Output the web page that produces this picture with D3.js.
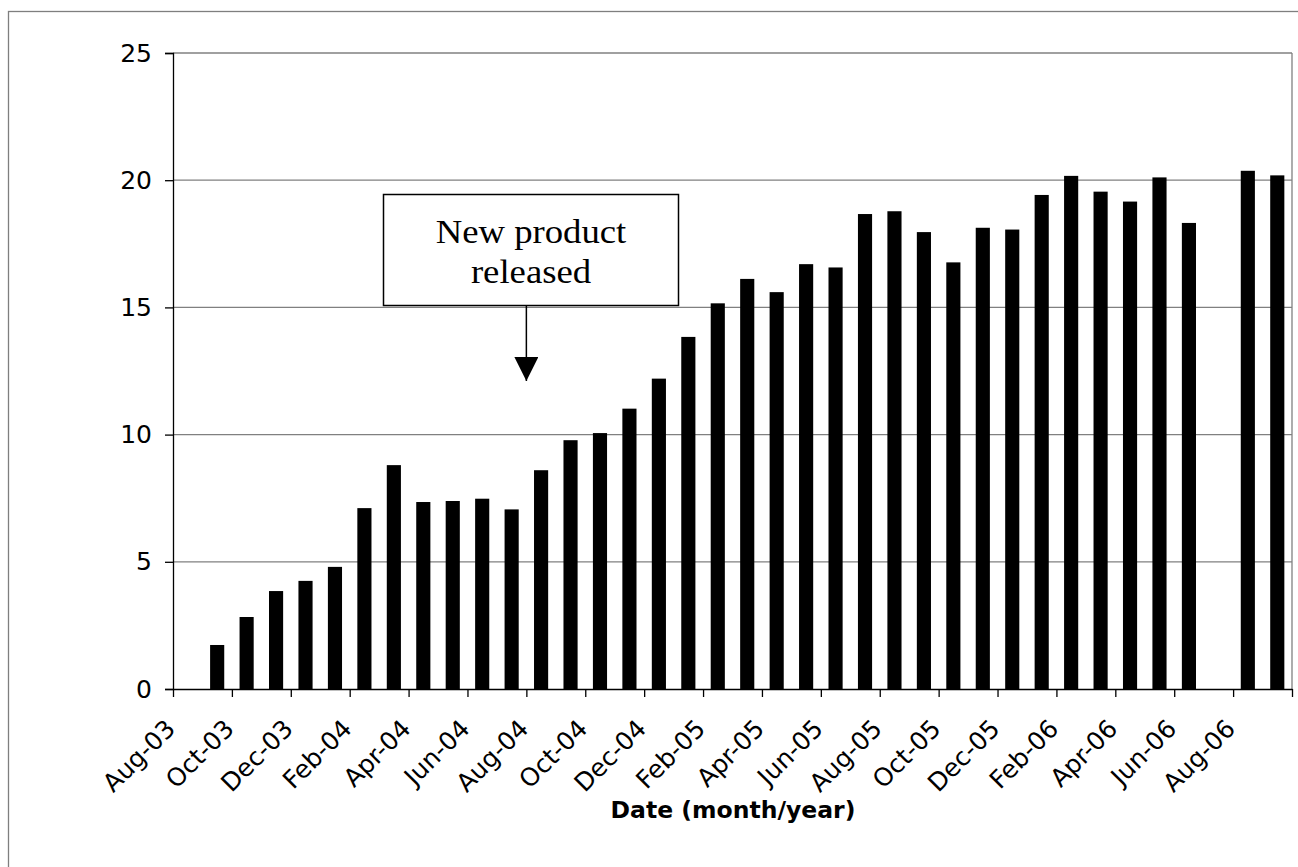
<!DOCTYPE html>
<html><head><meta charset="utf-8">
<script src="https://cdn.jsdelivr.net/npm/d3@7"></script>
<style>body{margin:0;background:#fff} svg{display:block}</style>
</head><body><svg id="c" width="1298" height="867"></svg>
<script>
// Month slots on the date axis (Aug-03 .. Sep-06)
const axisMonths = ["Aug-03","Sep-03","Oct-03","Nov-03","Dec-03","Jan-04","Feb-04","Mar-04","Apr-04","May-04","Jun-04","Jul-04","Aug-04","Sep-04","Oct-04","Nov-04","Dec-04","Jan-05","Feb-05","Mar-05","Apr-05","May-05","Jun-05","Jul-05","Aug-05","Sep-05","Oct-05","Nov-05","Dec-05","Jan-06","Feb-06","Mar-06","Apr-06","May-06","Jun-06","Jul-06","Aug-06","Sep-06"];
// Data categories and values (Jul-06 missing)
const categories = ["Sep-03","Oct-03","Nov-03","Dec-03","Jan-04","Feb-04","Mar-04","Apr-04","May-04","Jun-04","Jul-04","Aug-04","Sep-04","Oct-04","Nov-04","Dec-04","Jan-05","Feb-05","Mar-05","Apr-05","May-05","Jun-05","Jul-05","Aug-05","Sep-05","Oct-05","Nov-05","Dec-05","Jan-06","Feb-06","Mar-06","Apr-06","May-06","Jun-06","Jul-06","Aug-06","Sep-06"];
const values = [1.73,2.83,3.85,4.25,4.8,7.11,8.8,7.35,7.39,7.48,7.06,8.6,9.78,10.06,11.02,12.2,13.84,15.16,16.12,15.6,16.7,16.57,18.67,18.78,17.96,16.77,18.13,18.06,19.42,20.17,19.55,19.16,20.11,18.32,null,20.37,20.19];
const xTickLabels = ["Aug-03","Oct-03","Dec-03","Feb-04","Apr-04","Jun-04","Aug-04","Oct-04","Dec-04","Feb-05","Apr-05","Jun-05","Aug-05","Oct-05","Dec-05","Feb-06","Apr-06","Jun-06","Aug-06"];
const yTicks = [0,5,10,15,20,25];
const xTitle = "Date (month/year)";
const annotation = ["New product", "released"];
const annotationMonth = "Aug-04";

const svg = d3.select("#c");
const L = 173, R = 1292, T = 53, B = 689;
const FONT = "DejaVu Sans, Verdana, sans-serif";

// outer chart border
svg.append("rect").attr("x",8.5).attr("y",11.5).attr("width",1400).attr("height",1000)
  .attr("fill","none").attr("stroke","#7f7f7f").attr("stroke-width",1.3);

const x = d3.scaleBand().domain(axisMonths).range([L,R]).paddingInner(0.52).paddingOuter(0.26);
const xi = d3.scaleLinear().domain([0, axisMonths.length]).range([L,R]);
const y = d3.scaleLinear().domain([0,25]).range([B,T]);

// gridlines
svg.append("g").selectAll("line").data(yTicks.filter(d=>d>0)).join("line")
  .attr("x1",L).attr("x2",R).attr("y1",d=>y(d)).attr("y2",d=>y(d))
  .attr("stroke","#808080").attr("stroke-width",1.3);
// right border of plot
svg.append("line").attr("x1",R).attr("x2",R).attr("y1",T).attr("y2",B)
  .attr("stroke","#808080").attr("stroke-width",1.3);

// bars
svg.append("g").selectAll("rect").data(categories.map((c,i)=>({c,v:values[i]})).filter(d=>d.v!=null)).join("rect")
  .attr("x",d=>x(d.c)).attr("width",x.bandwidth())
  .attr("y",d=>y(d.v)).attr("height",d=>y(0)-y(d.v)).attr("fill","#000");

// y axis
const ya = svg.append("g").attr("transform",`translate(${L},0)`)
  .call(d3.axisLeft(y).tickValues(yTicks).tickSize(8).tickPadding(13).tickFormat(d3.format("d")));
ya.select(".domain").attr("stroke","#000").attr("stroke-width",1.3);
ya.selectAll(".tick line").attr("stroke","#000").attr("stroke-width",1.3);
ya.selectAll(".tick text").attr("font-family",FONT).attr("font-size",25).attr("fill","#000");

// x axis
const tickIdx = d3.range(0, axisMonths.length+1, 2);
const xa = svg.append("g").attr("transform",`translate(0,${B})`)
  .call(d3.axisBottom(xi).tickValues(tickIdx).tickSize(8).tickSizeOuter(0)
    .tickFormat(i => xTickLabels[i/2] || ""));
xa.select(".domain").attr("stroke","#000").attr("stroke-width",1.3);
xa.selectAll(".tick line").attr("stroke","#000").attr("stroke-width",1.3);
xa.selectAll(".tick text").attr("font-family",FONT).attr("font-size",25).attr("fill","#000")
  .attr("text-anchor","end").attr("dy","0.35em")
  .attr("transform","translate(-3,35) rotate(-45)").attr("y",0);

// x title
svg.append("text").attr("x",733).attr("y",818).attr("text-anchor","middle")
  .attr("font-family",FONT).attr("font-weight","bold").attr("font-size",23.5).text(xTitle);

// annotation
const ai = axisMonths.indexOf(annotationMonth);
const ax = xi(ai);
svg.append("defs").append("marker").attr("id","ah").attr("viewBox","0 0 10 10")
  .attr("refX",10).attr("refY",5).attr("markerWidth",24).attr("markerHeight",24)
  .attr("markerUnits","userSpaceOnUse").attr("orient","auto")
  .append("path").attr("d","M0,0L10,5L0,10Z").attr("fill","#000");
svg.append("line").attr("x1",ax).attr("x2",ax).attr("y1",306).attr("y2",381)
  .attr("stroke","#000").attr("stroke-width",1.5).attr("marker-end","url(#ah)");
svg.append("rect").attr("x",383.5).attr("y",194.5).attr("width",295).attr("height",111)
  .attr("fill","#fff").attr("stroke","#000").attr("stroke-width",1.5);
svg.append("g").selectAll("text").data(annotation).join("text")
  .attr("transform",(d,i)=>`translate(531,${243+i*40}) scale(1.08,1)`).attr("text-anchor","middle")
  .attr("font-family","Liberation Serif, Times New Roman, serif").attr("font-size",34).text(d=>d);
</script></body></html>
